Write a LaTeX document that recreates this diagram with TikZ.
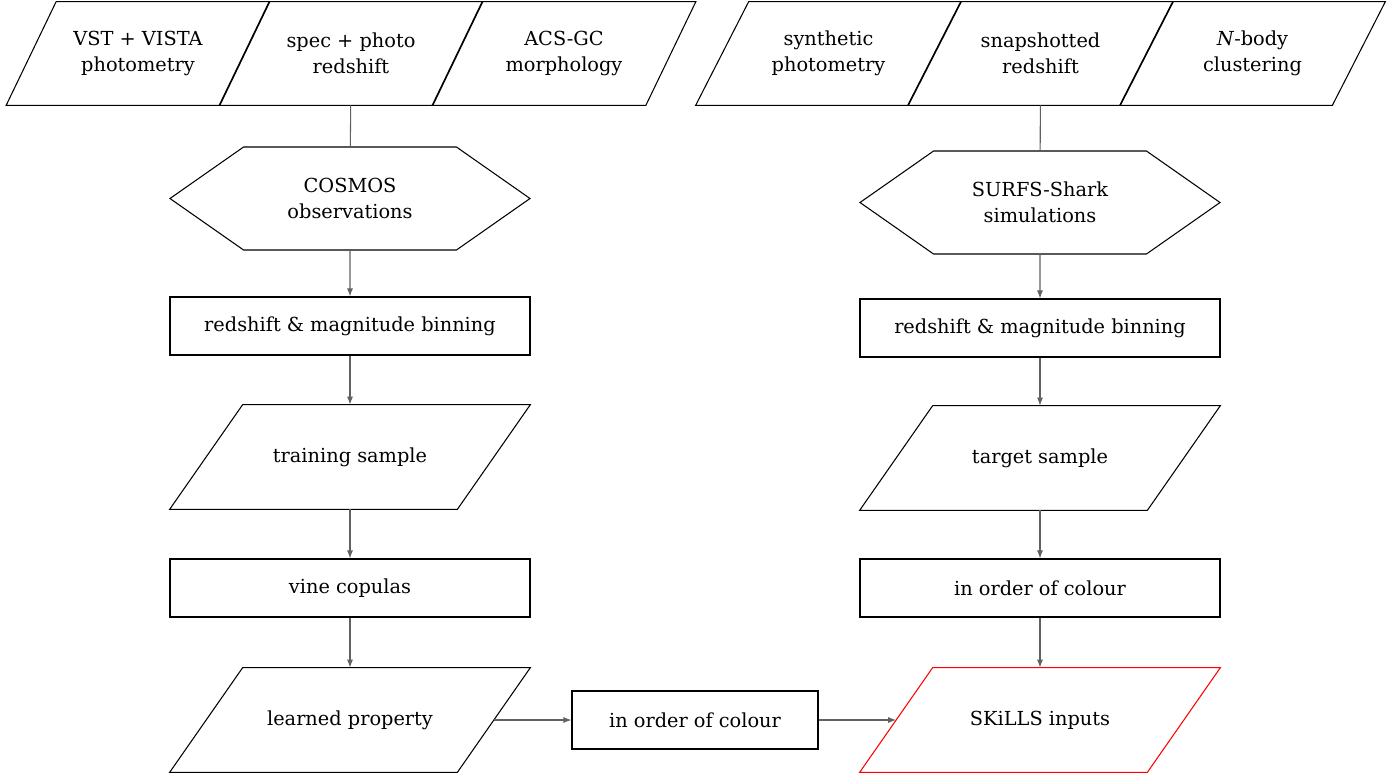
\documentclass[tikz,border=0pt]{standalone}
\usepackage{fontspec}
\setmainfont{DejaVu Serif}
\usetikzlibrary{shapes.symbols, arrows.meta}

\tikzset{
    slantbox/.style 2 args={rectangle, align=center, inner sep=0pt,
        append after command={\pgfextra{
            \draw[line width=0.6pt, #2] (\tikzlastnode.south west) -- ([xshift=#1]\tikzlastnode.north west)
                -- (\tikzlastnode.north east) -- ([xshift=-#1]\tikzlastnode.south east) -- cycle;}}},
    datain/.style={slantbox={#1}{black}, minimum width=5.26cm, minimum height=2.06cm},
    datain/.default=1.0cm,
    sample/.style={slantbox={1.46cm}{#1}, minimum width=7.2cm, minimum height=2.08cm},
    sample/.default=black,
    source/.style={signal, draw, line width=0.6pt, signal to=west and east, signal pointer angle=70,
        minimum width=7.2cm, minimum height=2.06cm, align=center, inner sep=0pt},
    stepbox/.style={rectangle, draw, line width=0.6pt, minimum width=7.2cm, minimum height=1.16cm, align=center},
    flow/.style={-{Latex[length=1.6mm, width=1.2mm]}, line width=0.6pt, black!62},
    link/.style={line width=0.6pt, black!62}
}

\begin{document}
\begin{tikzpicture}[font=\fontsize{11}{14.8}\selectfont]
        % ==== CANVAS ====
        \useasboundingbox (0,0) rectangle (27.94,-15.52);

        % ==== OBSERVATIONS (LEFT) ====
        \node[datain] (vst)  at (2.76,-1.07)  {VST + VISTA\\photometry};
        \node[datain] (spec) at (7.02,-1.07)  {spec + photo\\redshift};
        \node[datain] (acs)  at (11.28,-1.07) {ACS-GC\\morphology};

        \node[source] (cosmos) at (7.0,-3.97) {COSMOS\\observations};
        \node[stepbox] (binobs) at (7.0,-6.52) {redshift \& magnitude binning};
        \node[sample] (train) at (7.0,-9.14) {training sample};
        \node[stepbox] (vine) at (7.0,-11.76) {vine copulas};
        \node[sample] (learned) at (7.0,-14.4) {learned property};

        % ==== SIMULATIONS (RIGHT) ====
        \node[datain=1.06cm, minimum width=5.3cm] (synth) at (16.57,-1.07) {synthetic\\photometry};
        \node[datain=1.06cm, minimum width=5.3cm] (snap)  at (20.81,-1.07) {snapshotted\\redshift};
        \node[datain=1.06cm, minimum width=5.3cm] (nbody) at (25.05,-1.07) {\textit{N}-body\\clustering};

        \node[source] (shark) at (20.8,-4.05) {SURFS-Shark\\simulations};
        \node[stepbox] (binsim) at (20.8,-6.56) {redshift \& magnitude binning};
        \node[sample] (target) at (20.8,-9.16) {target sample};
        \node[stepbox] (ordsim) at (20.8,-11.76) {in order of colour};
        \node[sample=red] (skills) at (20.8,-14.4) {SKiLLS inputs};

        % ==== MIDDLE ====
        \node[stepbox, minimum width=4.92cm] (ordobs) at (13.9,-14.4) {in order of colour};

        % ==== CONNECTORS ====
        \draw[link] (spec) -- (cosmos);
        \draw[flow] (cosmos) -- (binobs);
        \draw[flow] (binobs) -- (train);
        \draw[flow] (train) -- (vine);
        \draw[flow] (vine) -- (learned);

        \draw[link] (snap) -- (shark);
        \draw[flow] (shark) -- (binsim);
        \draw[flow] (binsim) -- (target);
        \draw[flow] (target) -- (ordsim);
        \draw[flow] (ordsim) -- (skills);

        \draw[flow] ([xshift=-0.73cm]learned.east) -- (ordobs);
        \draw[flow] (ordobs) -- ([xshift=0.73cm]skills.west);
    \end{tikzpicture}
\end{document}
